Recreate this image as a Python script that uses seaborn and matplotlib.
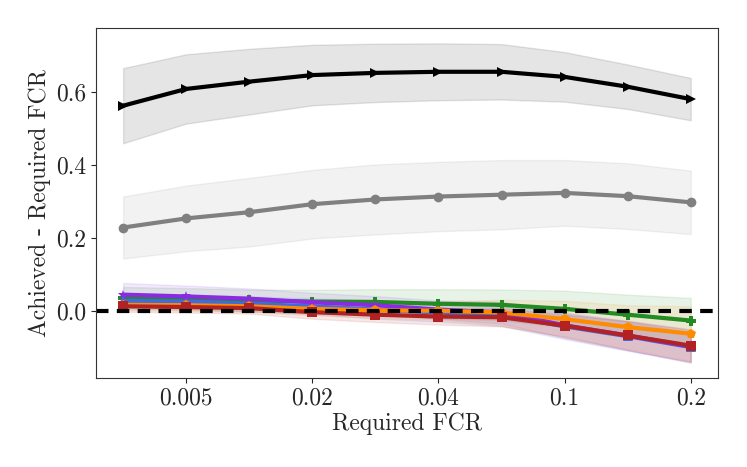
import numpy as np
import pandas as pd
import matplotlib
matplotlib.use("Agg")
import matplotlib.pyplot as plt
import seaborn as sns

# required FCR values (categorical x positions)
fcr = [0.001, 0.005, 0.01, 0.02, 0.03, 0.04, 0.05, 0.1, 0.15, 0.2]

black_mean = [0.562, 0.608, 0.628, 0.646, 0.652, 0.655, 0.655, 0.641, 0.614, 0.580]
black_std = [0.103, 0.095, 0.090, 0.083, 0.080, 0.078, 0.076, 0.068, 0.061, 0.058]
gray_mean = [0.228, 0.253, 0.270, 0.292, 0.305, 0.313, 0.318, 0.323, 0.314, 0.297]
gray_std = [0.085, 0.090, 0.094, 0.094, 0.096, 0.095, 0.095, 0.090, 0.090, 0.087]
green_mean = [0.035, 0.032, 0.028, 0.025, 0.024, 0.019, 0.016, 0.005, -0.011, -0.027]
green_std = [0.030, 0.030, 0.030, 0.032, 0.035, 0.040, 0.042, 0.050, 0.055, 0.062]
blue_mean = [0.027, 0.025, 0.019, 0.012, 0.003, -0.005, -0.012, -0.043, -0.070, -0.100]
blue_std = [0.020, 0.020, 0.020, 0.022, 0.025, 0.025, 0.030, 0.035, 0.040, 0.040]
purple_mean = [0.044, 0.039, 0.033, 0.023, 0.015, 0.003, -0.005, -0.040, -0.068, -0.098]
purple_std = [0.032, 0.030, 0.028, 0.026, 0.025, 0.025, 0.030, 0.035, 0.040, 0.045]
orange_mean = [0.016, 0.015, 0.012, 0.005, 0.001, 0.000, -0.005, -0.023, -0.045, -0.063]
orange_std = [0.015, 0.015, 0.015, 0.018, 0.020, 0.025, 0.035, 0.050, 0.060, 0.075]
red_mean = [0.012, 0.010, 0.007, -0.004, -0.011, -0.016, -0.018, -0.041, -0.068, -0.096]
red_std = [0.015, 0.015, 0.015, 0.018, 0.020, 0.022, 0.025, 0.030, 0.040, 0.045]

series = [
    (black_mean, black_std, "black", ">"),
    (gray_mean, gray_std, "gray", "o"),
    (green_mean, green_std, "forestgreen", "P"),
    (blue_mean, blue_std, "royalblue", "^"),
    (purple_mean, purple_std, "blueviolet", "*"),
    (orange_mean, orange_std, "darkorange", "p"),
    (red_mean, red_std, "firebrick", "s"),
]

sns.set_style("ticks")
plt.rcParams["font.family"] = ["cmr10", "DejaVu Serif"]
plt.rcParams["mathtext.fontset"] = "cm"
plt.rcParams["axes.unicode_minus"] = False
plt.rcParams["axes.formatter.use_mathtext"] = True

fig = plt.figure(figsize=(7.47, 4.67), dpi=100)
ax = fig.add_axes([0.1285, 0.191, 0.8325, 0.749])

pos = np.arange(len(fcr))
for mean, std, color, marker in series:
    mean = np.array(mean)
    std = np.array(std)
    df = pd.DataFrame({"x": pos, "y": mean})
    ax.fill_between(pos, mean - std, mean + std, color=color, alpha=0.1)
    sns.lineplot(data=df, x="x", y="y", color=color, marker=marker,
                 markersize=7, markeredgewidth=0, linewidth=3, ax=ax)

ax.axhline(0, color="black", linestyle="--", linewidth=3, dashes=(3, 2))

ax.set_xlim(-0.43, 9.43)
ax.set_ylim(-0.184, 0.775)
ax.set_xticks(pos[1::2])
ax.set_xticklabels([str(f) for f in fcr[1::2]])
ax.set_yticks([0.0, 0.2, 0.4, 0.6])
ax.set_yticklabels(["0.0", "0.2", "0.4", "0.6"])
ax.tick_params(labelsize=17)
ax.set_xlabel("Required FCR", fontsize=17, labelpad=2)
ax.set_ylabel("Achieved - Required FCR", fontsize=17, labelpad=4)
for s in ax.spines.values():
    s.set_color("#333333")

fig.savefig("out.png", dpi=100)
